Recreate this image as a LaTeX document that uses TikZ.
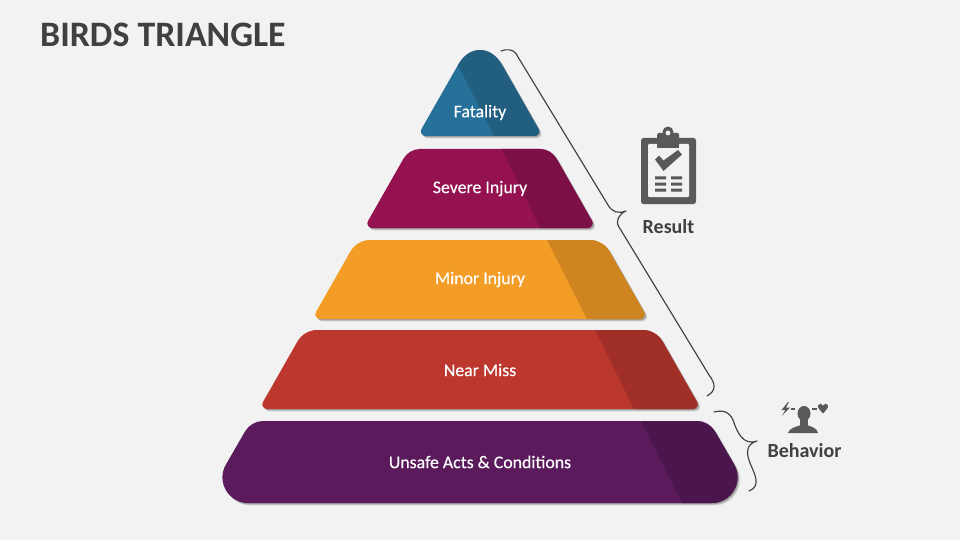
\documentclass[tikz,border=0pt]{standalone}
\usepackage{fontspec}
\setmainfont{Carlito}
\newfontfamily\labelfont[FakeBold=0.35]{Carlito}
\definecolor{bgc}{HTML}{F2F2F2}
\definecolor{ink}{HTML}{404040}
\definecolor{icon}{HTML}{595959}
\definecolor{fatL}{HTML}{26719A}
\definecolor{fatD}{HTML}{215E80}
\definecolor{sevL}{HTML}{93124F}
\definecolor{sevD}{HTML}{7C1046}
\definecolor{minL}{HTML}{F39C26}
\definecolor{minD}{HTML}{CE841F}
\definecolor{nearL}{HTML}{BC382E}
\definecolor{nearD}{HTML}{A02F27}
\definecolor{unsL}{HTML}{5A1A5C}
\definecolor{unsD}{HTML}{4B154D}
\tikzset{
  tierlabel/.style={text=white,font=\labelfont\fontsize{17.8}{20}\selectfont,inner sep=0pt,anchor=center},
  sidelabel/.style={text=ink,font=\fontsize{20}{24}\selectfont\bfseries,inner sep=0pt,anchor=center},
  bracket/.style={draw=ink,line width=1.15pt,line cap=round,line join=round}
}
% paint: path macro \tp, #1 light, #2 dark, #3 dark region
\newcommand{\painttier}[3]{%
  \foreach \sh/\op in {2.6/0.08,1.9/0.12,1.2/0.18}{
    \fill[black,opacity=\op,shift={(\sh,\sh)}] \tp;
  }
  \fill[#1] \tp;
  \begin{scope}
    \clip \tp;
    \fill[#2] #3;
  \end{scope}
}
% #1 top half, #2 bottom half, #3 y top, #4 y bottom, #5 top cut, #6 bottom cut
\newcommand{\settrap}[6]{%
  \def\tp{({480-#1+#5},#3) -- ({480+#1-#5},#3)
    .. controls ({480+#1-.4*#5},#3) and ({480+#1+.4*#5*.495},{#3+.4*#5*.869}) .. ({480+#1+#5*.495},{#3+#5*.869})
    -- ({480+#2-#6*.495},{#4-#6*.869})
    .. controls ({480+#2-.556*#6*.495},{#4-.556*#6*.869}) and ({480+#2-.556*#6},#4) .. ({480+#2-#6},#4)
    -- ({480-#2+#6},#4)
    .. controls ({480-#2+.556*#6},#4) and ({480-#2+.556*#6*.495},{#4-.556*#6*.869}) .. ({480-#2+#6*.495},{#4-#6*.869})
    -- ({480-#1-#5*.495},{#3+#5*.869})
    .. controls ({480-#1-.4*#5*.495},{#3+.4*#5*.869}) and ({480-#1+.4*#5},#3) .. ({480-#1+#5},#3) -- cycle}%
}
\begin{document}
\begin{tikzpicture}[x=1pt,y=-1pt]
\useasboundingbox (0,0) rectangle (960,540);
\fill[bgc] (0,0) rectangle (960,540);

\node[text=ink,font=\fontsize{35.8}{40}\selectfont\bfseries,anchor=west,inner sep=0pt] (title) at (40,34.5) {BIRDS TRIANGLE};

% tiers
\def\tp{(458,65) .. controls (469.3,45) and (490.7,45) .. (502,65) -- (538.5,129) .. controls (540.3,132.1) and (538.05,136) .. (534.5,136) -- (425.5,136) .. controls (421.95,136) and (419.7,132.1) .. (421.5,129) -- cycle}
\painttier{fatL}{fatD}{(458,65) -- (494,136) -- (560,136) -- (560,20) -- (440,20) -- cycle}
\settrap{71}{116}{149}{228}{11}{8}
\painttier{sevL}{sevD}{(502,149) -- (540,228) -- (610,228) -- (610,140) -- cycle}
\settrap{123}{168}{240}{319}{13}{8}
\painttier{minL}{minD}{(547,240) -- (587,319) -- (660,319) -- (660,230) -- cycle}
\settrap{176}{221}{330}{409}{13}{8}
\painttier{nearL}{nearD}{(595,330) -- (634,409) -- (720,409) -- (720,320) -- cycle}
\settrap{229}{276}{421}{503}{12}{44}
\painttier{unsL}{unsD}{(641,421) -- (682,503) -- (770,503) -- (770,410) -- cycle}

\node[tierlabel] (fatality) at (480,112.5) {Fatality};
\node[tierlabel] (severe) at (480,188.5) {Severe Injury};
\node[tierlabel] (minor) at (480,279.5) {Minor Injury};
\node[tierlabel] (nearmiss) at (480,370) {Near Miss};
\node[tierlabel] (unsafe) at (480,462) {Unsafe Acts \& Conditions};

% braces
\draw[bracket] (501,51) .. controls (506,49) and (514,48) .. (518,57)
  -- (608,205) .. controls (612,212) and (618,214) .. (626,211)
  .. controls (619,214) and (615,221) .. (619,227)
  -- (709,375) .. controls (716,384) and (716,391) .. (707,396);
\draw[bracket] (714,412) .. controls (722,410) and (729,411) .. (733,420)
  .. controls (737,432) and (743,446) .. (757,441)
  .. controls (746,444) and (746,453) .. (750,463)
  .. controls (754,473) and (762,486) .. (749,491);

% clipboard icon
\begin{scope}
\fill[icon,rounded corners=2.5pt] (641,138) rectangle (696,204);
\fill[bgc,rounded corners=1pt] (648,144) rectangle (689,197);
\fill[icon] (655,138) rectangle (681,148);
\fill[bgc] (655,144) rectangle (657,148) (679,144) rectangle (681,148);
\fill[icon,rounded corners=1.5pt] (657,133) rectangle (679,147);
\fill[icon] (668,132) circle (5.5);
\fill[bgc] (668,133) circle (2.4);
\fill[icon] (655,159.5) -- (659,155.5) -- (663.5,160.5) -- (678,150) -- (682,154.5) -- (663.5,171) -- cycle;
\fill[icon] (655,176.5) rectangle (666,179.5) (655,182.5) rectangle (666,185.5) (655,188.5) rectangle (666,191.5);
\fill[icon] (671,176.5) rectangle (682,179.5) (671,182.5) rectangle (682,185.5) (671,188.5) rectangle (682,191.5);
\end{scope}
\node[sidelabel] (result) at (668.5,226.5) {Result};

% behavior icon
\fill[icon] (804,413.5) ellipse (6.5 and 7.5);
\fill[icon] (800,418) rectangle (808,426);
\fill[icon] (788,433) .. controls (789,428) and (796,427) .. (801,425) -- (807,425) .. controls (812,427) and (817,428) .. (818,433) -- cycle;
\fill[icon] (788,402) -- (781.5,410) -- (785.5,410) -- (782,415.5) -- (790,407.5) -- (786,407.5) -- (789,402) -- cycle;
\fill[icon] (790.5,408.2) rectangle (795,409.9);
\fill[icon] (812,408.2) rectangle (816.5,409.9);
\fill[icon] (823,413.5) .. controls (820,410) and (817.5,408) .. (818,405.5) .. controls (818.5,403) and (822,403) .. (823,405.5) .. controls (824,403) and (827.5,403) .. (828,405.5) .. controls (828.5,408) and (826,410) .. (823,413.5) -- cycle;
\node[sidelabel] (behavior) at (804.5,451) {Behavior};
\end{tikzpicture}
\end{document}
